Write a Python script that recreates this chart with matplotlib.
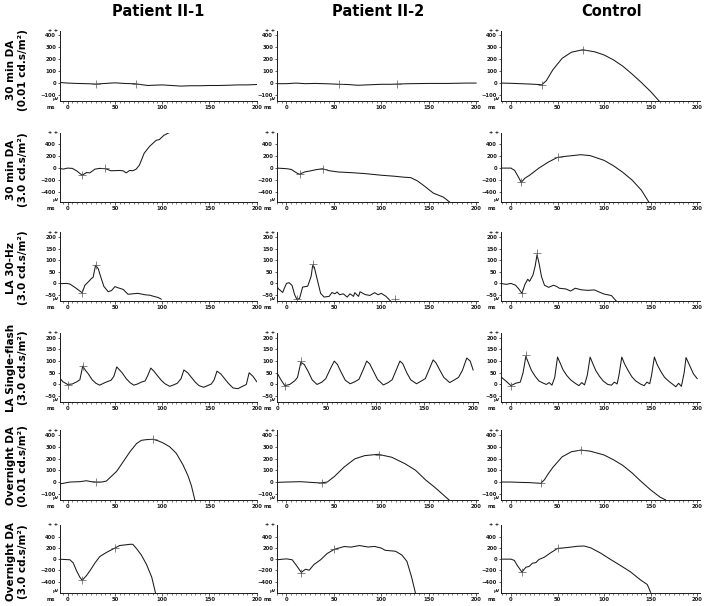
import matplotlib
matplotlib.use("Agg")
import matplotlib.pyplot as plt
from matplotlib.ticker import MultipleLocator

# column headers and row labels
col_titles = ["Patient II-1", "Patient II-2", "Control"]
row_titles = ["30 min DA\n(0.01 cd.s/m\u00b2)", "30 min DA\n(3.0 cd.s/m\u00b2)",
              "LA 30-Hz\n(3.0 cd.s/m\u00b2)", "LA Single-flash\n(3.0 cd.s/m\u00b2)",
              "Overnight DA\n(0.01 cd.s/m\u00b2)", "Overnight DA\n(3.0 cd.s/m\u00b2)"]

# y ticks per row
yticks_big = [-100, 0, 100, 200, 300, 400]
yticks_wide = [-400, -200, 0, 200, 400]
yticks_small = [-50, 0, 50, 100, 150, 200]
xticks = [0, 50, 100, 150, 200]

# traces (ms, uV)
dim30_p1 = [(-8, 5), (0, 0), (10, -3), (20, -5), (30, -8), (40, -3), (50, 2), (60, -3), (72, -6),
            (80, -15), (85, -20), (90, -18), (100, -15), (110, -20), (120, -25), (130, -22),
            (140, -22), (150, -20), (160, -20), (170, -18), (180, -15), (190, -15), (200, -12)]
dim30_p1_marks = [(30, -8), (72, -6)]
dim30_p2 = [(-10, -5), (0, -5), (10, 0), (20, -5), (30, -3), (40, -5), (50, -8), (55, -10),
            (65, -12), (75, -18), (85, -15), (100, -10), (110, -10), (117, -8), (130, -5),
            (150, -3), (170, -3), (190, 0), (200, 0)]
dim30_p2_marks = [(55, -10), (117, -8)]
dim30_ctl = [(-10, 0), (0, -2), (10, -5), (20, -8), (30, -12), (33, -15), (38, 20), (45, 110),
             (55, 205), (65, 255), (77, 275), (90, 258), (100, 232), (110, 192), (120, 140),
             (130, 75), (140, 5), (150, -70), (159, -147)]
dim30_ctl_marks = [(33, -15), (77, 275)]

bright30_p1 = [(-10, 0), (-4.6, -17), (0, 0), (5, -5), (9.5, -45), (15.4, -120), (20, -75),
               (23.5, -80), (29, -17), (34, -5), (40, -10), (46, -45), (55, -40), (58.6, -45),
               (62, -80), (65.6, -40), (69, -45), (72.6, -17), (76, 51), (81, 250), (86.7, 365),
               (93.7, 467), (97, 479), (102, 553), (108, 600), (115, 615)]
bright30_p1_marks = [(15.4, -120), (40, -5)]
bright30_p2 = [(-10, 0), (0, -10), (5, -22), (10.3, -77), (13.8, -104), (19, -66), (26, -44),
               (31, -27), (38, -11), (45, -44), (55, -66), (69, -77), (83, -93), (100, -120),
               (114, -137), (124, -153), (131, -160), (138, -214), (145, -296), (155, -422),
               (165.5, -488), (172, -570)]
bright30_p2_marks = [(13.8, -104), (38, -11)]
bright30_ctl = [(-10, 0), (0, 0), (4, -40), (8, -150), (11, -240), (15, -170), (20, -120),
                (25, -60), (30, 0), (40, 100), (50, 180), (60, 200), (75, 225), (85, 210),
                (100, 130), (110, 40), (120, -70), (130, -200), (140, -370), (148, -570)]
bright30_ctl_marks = [(11, -240), (50, 180)]

flick_p1 = [(-10, 4), (-6.3, -1), (-1, 0), (2.5, -3), (7.7, -17), (13, -33), (15.5, -40),
            (18.3, -8), (23, 11), (25.4, 22), (27, 26), (29.6, 78), (32.4, 64), (35, 29),
            (38.4, -13), (43, -36), (46.5, -31), (50, -14), (53.5, -19), (58.8, -26), (64, -47),
            (71, -44), (74.6, -43), (81.7, -49), (87, -51), (92, -57), (95.8, -61), (99, -68)]
flick_p1_marks = [(15.5, -40), (29.6, 80)]
flick_p2 = [(-12, 0), (-8.6, -23), (-4, -39), (-1.7, -16), (0, 0), (2.8, 3), (5.9, -9),
            (8.6, -49), (11, -69), (13.8, -65), (17, -16), (22.4, -12), (26, 31), (27.6, 77),
            (29.3, 71), (32.8, 11), (36, -43), (39.7, -59), (45, -56), (48, -39), (51, -45),
            (53.4, -37), (56, -49), (60, -45), (64, -59), (67, -45), (70.7, -56), (72, -40),
            (76, -56), (77.6, -36), (82.8, -48), (88, -52), (93, -40), (96.6, -49), (100, -43),
            (105, -56), (109.7, -76)]
flick_p2_marks = [(11, -69), (27.6, 85), (114, -66)]
flick_ctl = [(-10, -1), (-5, -4), (0, 0), (5, -8), (8.4, -24), (11.8, -43), (15, -4), (18, 18),
             (20, 9), (23.6, 36), (26, 75), (28, 124), (30.4, 82), (32.8, 29), (36, -8),
             (40.5, -17), (45.6, -8), (49, -13), (52, -21), (59, -24), (64, -33), (69, -21),
             (76, -28), (83, -30), (89.5, -28), (94.6, -37), (100, -46), (105, -50), (108, -53),
             (113, -76)]
flick_ctl_marks = [(11.8, -43), (28, 130)]

single_p1 = [(-10, 35), (-5, 12), (0, 0), (5, 2), (10, 12), (13, 20), (16, 78), (19, 60),
             (22, 45), (26, 20), (30, 5), (34, -3), (38, 5), (42, 12), (46, 18), (49, 35),
             (52, 75), (55, 62), (58, 48), (62, 25), (66, 8), (70, -3), (74, 2), (78, 10),
             (82, 15), (85, 40), (88, 70), (91, 58), (95, 38), (99, 18), (103, 3), (108, -8),
             (112, -2), (116, 5), (120, 25), (123, 62), (127, 50), (131, 30), (135, 10),
             (139, -5), (144, -12), (148, -5), (152, 2), (155, 20), (158, 57), (162, 45),
             (166, 25), (170, 5), (175, -15), (180, -18), (185, -8), (189, 0), (192, 50),
             (196, 35), (200, 12)]
single_p1_marks = [(0, -3), (16, 80)]
single_p2 = [(-1, 50), (3, 20), (7, -5), (12, 0), (17, 15), (20, 30), (23.5, 95), (27, 85),
             (31, 55), (35, 20), (40, 0), (45, 10), (49, 25), (54, 70), (57.7, 100), (61, 85),
             (65, 50), (69, 18), (74, 3), (79, 12), (83, 22), (87, 60), (91, 100), (94, 88),
             (98, 55), (102, 22), (108, -2), (113, 8), (117, 20), (121, 60), (125, 100),
             (128, 88), (132, 50), (136, 20), (142, 3), (147, 15), (151, 25), (155, 65),
             (159, 105), (162, 92), (166, 60), (170, 30), (176, 8), (181, 20), (185, 30),
             (189, 60), (193.5, 113), (197, 100), (200, 62)]
single_p2_marks = [(7, -5), (23.5, 100)]
single_ctl = [(-10, 30), (-5, 13), (0, -5), (5, 5), (10, 10), (13, 50), (16, 120), (19, 90),
              (22, 60), (26, 35), (30, 15), (35, 5), (38, 0), (41, 8), (44, -3), (47, 30),
              (50, 117), (53, 90), (56, 62), (60, 38), (64, 20), (69, 5), (73, -5), (76, 8),
              (79, -2), (82, 40), (85, 117), (88, 88), (91, 60), (95, 35), (99, 15), (104, 0),
              (108, -3), (111, 10), (114, 2), (116, 40), (119, 117), (122, 88), (126, 58),
              (130, 32), (134, 15), (139, 2), (143, -5), (146, 10), (149, 3), (151, 40),
              (154, 117), (157, 85), (161, 55), (165, 30), (170, 12), (174, 0), (177, -10),
              (180, 5), (183, -8), (186, 50), (188, 115), (192, 80), (196, 45), (200, 25)]
single_ctl_marks = [(0, -5), (16, 125)]

dimON_p1 = [(-10, -19), (-4.6, -11), (2.5, 0), (13, 3), (20, 11), (25, 3), (30, 0), (36, 0),
            (41, 8), (46.5, 50), (52, 92), (59, 175), (66, 258), (73, 328), (78, 355),
            (83.5, 361), (90.5, 364), (96, 350), (101, 333), (108, 300), (115, 244), (122, 147),
            (127.5, 50), (131, -33), (134.5, -150)]
dimON_p1_marks = [(30, 0), (90.5, 364)]
dimON_p2 = [(-10, -3), (0, 0), (15, 3), (25.6, -3), (36, -8), (43, 0), (50.5, 47), (61, 129),
            (72, 197), (82.6, 225), (96.8, 236), (111, 211), (125, 156), (136, 101), (146.6, 19),
            (157, -49), (171.5, -153)]
dimON_p2_marks = [(37, -10), (98, 232)]
dimON_ctl = [(-10, 0), (0, 0), (10, -3), (20, -5), (30, -10), (32, -12), (36, 20), (40, 70),
             (45, 125), (55, 215), (65, 258), (75, 272), (85, 263), (100, 230), (110, 190),
             (120, 142), (130, 78), (140, 3), (150, -67), (160, -128), (166, -152)]
dimON_ctl_marks = [(32, -12), (75, 272)]

brightON_p1 = [(-10, 0), (2.5, -11), (6, -67), (9.5, -207), (13, -320), (15.5, -375), (20, -291),
               (23.6, -207), (29, -67), (34, 45), (41, 118), (50, 196), (55, 241), (66, 263),
               (69, 263), (73, 185), (78, 73), (83.5, -95), (89, -320), (93, -600)]
brightON_p1_marks = [(15.5, -375), (50, 196)]
brightON_p2 = [(-10, -11), (0, 5), (6, -11), (11, -123), (15.6, -235), (20, -179), (24, -196),
               (29, -95), (36, -11), (43, 101), (50.5, 174), (61, 224), (68, 213), (77, 241),
               (86, 215), (93, 225), (100, 196), (104, 157), (115, 140), (121.7, 73), (127, -39),
               (132, -320), (136, -600)]
brightON_p2_marks = [(15.6, -240), (50.5, 174)]
brightON_ctl = [(-9, 0), (0, 0), (3.6, -22), (7, -117), (11.8, -228), (16, -144), (19.6, -128),
                (23, -72), (26.8, -61), (30, -6), (35.7, 33), (43, 117), (50, 189), (60.7, 206),
                (71.4, 228), (78.6, 233), (85.7, 200), (96.4, 106), (107, -6), (118, -117),
                (128.6, -228), (139, -367), (146.4, -450), (150, -589)]
brightON_ctl_marks = [(11.8, -228), (50, 189)]

traces = [[dim30_p1, dim30_p2, dim30_ctl],
          [bright30_p1, bright30_p2, bright30_ctl],
          [flick_p1, flick_p2, flick_ctl],
          [single_p1, single_p2, single_ctl],
          [dimON_p1, dimON_p2, dimON_ctl],
          [brightON_p1, brightON_p2, brightON_ctl]]
marks = [[dim30_p1_marks, dim30_p2_marks, dim30_ctl_marks],
         [bright30_p1_marks, bright30_p2_marks, bright30_ctl_marks],
         [flick_p1_marks, flick_p2_marks, flick_ctl_marks],
         [single_p1_marks, single_p2_marks, single_ctl_marks],
         [dimON_p1_marks, dimON_p2_marks, dimON_ctl_marks],
         [brightON_p1_marks, brightON_p2_marks, brightON_ctl_marks]]

row_yticks = [yticks_big, yticks_wide, yticks_small, yticks_small, yticks_big, yticks_wide]
row_ylims = [(-148, 430), (-570, 590), (-76, 222), (-75, 220), (-153, 443), (-600, 605)]

# pixel layout of the panels
W, H = 713, 606
col_px = [(60, 257), (277, 478), (501, 700)]
col_xlims = [(-8, 200.3), (-10, 202), (-10.7, 203)]
row_px = [(31, 101), (133, 202), (232, 301), (333, 402), (430, 500), (525, 593)]
row_label_y = [70, 170, 268, 368, 466, 562]
col_title_x = [158, 378, 612]

fig = plt.figure(figsize=(W / 100, H / 100), dpi=100)
ink = "#1a1a1a"

for r in range(6):
    for c in range(3):
        x0, x1 = col_px[c]
        y0, y1 = row_px[r]
        ax = fig.add_axes([x0 / W, 1 - y1 / H, (x1 - x0) / W, (y1 - y0) / H])
        pts = traces[r][c]
        ax.plot([p[0] for p in pts], [p[1] for p in pts], color=ink, lw=0.75)
        mk = marks[r][c]
        ax.plot([p[0] for p in mk], [p[1] for p in mk], ls="none", marker="+",
                ms=6, mew=0.5, color="#555555")
        if r == 3 and c == 1:
            ax.set_xlim(-1, 205)
        else:
            ax.set_xlim(*col_xlims[c])
        ax.set_ylim(*row_ylims[r])
        ax.set_yticks(row_yticks[r])
        ax.set_xticks(xticks)
        ax.xaxis.set_minor_locator(MultipleLocator(5))
        for s in ["top", "right"]:
            ax.spines[s].set_visible(False)
        for s in ["left", "bottom"]:
            ax.spines[s].set_linewidth(0.7)
            ax.spines[s].set_color(ink)
        ax.tick_params(axis="both", which="major", length=1.8, width=0.5, pad=1,
                       labelsize=3.8, colors=ink)
        ax.tick_params(axis="x", which="minor", length=1.2, width=0.4, color=ink)
        for lab in ax.get_xticklabels() + ax.get_yticklabels():
            lab.set_fontweight("bold")
        ax.annotate("+ +", xy=(0, 1), xycoords="axes fraction", xytext=(-1.5, 0),
                    textcoords="offset points", ha="right", va="center",
                    fontsize=3.5, fontweight="bold", color=ink)
        ax.annotate("\u00b5V", xy=(0, 0), xycoords="axes fraction", xytext=(-0.8, 0.1),
                    textcoords="offset points", ha="right", va="bottom",
                    fontsize=3.0, fontweight="bold", color=ink)
        ax.annotate("ms", xy=(0, 0), xycoords="axes fraction", xytext=(-3.5, -4.6),
                    textcoords="offset points", ha="right", va="center",
                    fontsize=3.8, fontweight="bold", color=ink)

for c in range(3):
    fig.text(col_title_x[c] / W, 1 - 12 / H, col_titles[c], ha="center", va="center",
             fontsize=10.5, fontweight="bold")

for r in range(6):
    fig.text(17 / W, 1 - row_label_y[r] / H, row_titles[r], ha="center", va="center",
             rotation=90, fontsize=7.5, fontweight="bold", linespacing=1.3)

fig.savefig("out.png", dpi=100)
